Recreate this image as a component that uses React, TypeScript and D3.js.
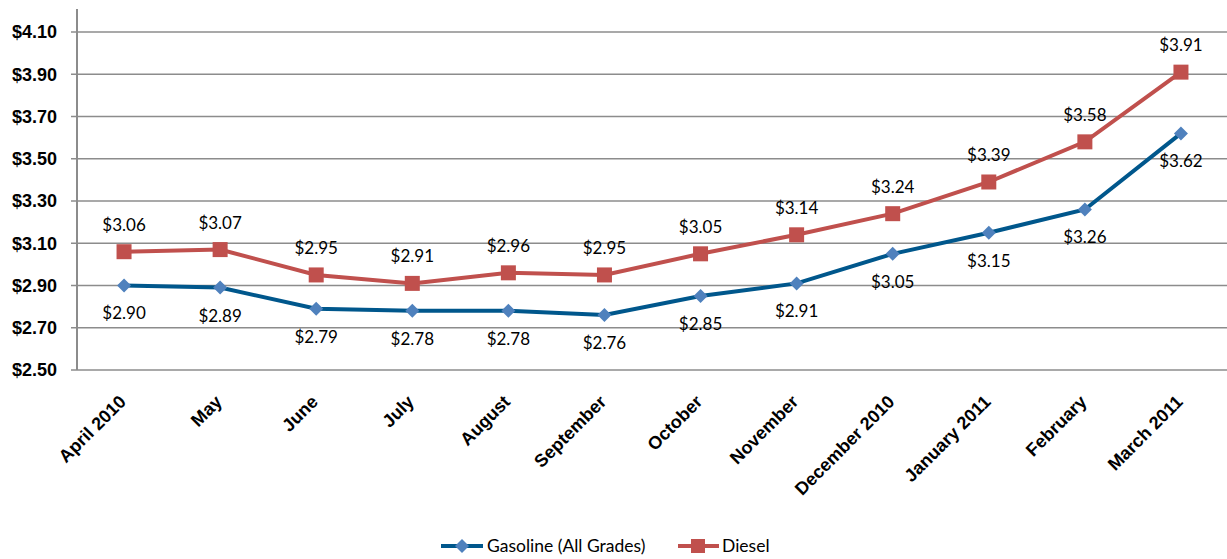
import React from "react";
import * as d3 from "d3";

const months = [
  "April 2010", "May", "June", "July", "August", "September",
  "October", "November", "December 2010", "January 2011", "February", "March 2011",
];
const gasoline = [2.90, 2.89, 2.79, 2.78, 2.78, 2.76, 2.85, 2.91, 3.05, 3.15, 3.26, 3.62];
const diesel = [3.06, 3.07, 2.95, 2.91, 2.96, 2.95, 3.05, 3.14, 3.24, 3.39, 3.58, 3.91];
const yTicks = [2.5, 2.7, 2.9, 3.1, 3.3, 3.5, 3.7, 3.9, 4.1];

const W = 1227;
const H = 559;
const left = 76;
const right = 1229;
const top = 32;
const bottom = 370;

const labelFont = "Lato, 'Open Sans', sans-serif";
const axisFont = "'Liberation Sans', Arial, sans-serif";

export default function App() {
  const x = d3.scaleBand<string>().domain(months).range([left, right]);
  const cx = (m: string) => (x(m) as number) + x.bandwidth() / 2;
  const y = d3.scaleLinear().domain([2.5, 4.1]).range([bottom, top]);
  const line = d3
    .line<number>()
    .x((_, i) => cx(months[i]))
    .y((d) => y(d));
  const fmt = (v: number) => "$" + v.toFixed(2);

  const gasLine = "#00578C";
  const gasMarker = "#4F81BD";
  const dieselColor = "#C0504D";

  return (
    <svg
      width={W}
      height={H}
      style={{ position: "absolute", left: 0, top: 0, background: "#fff" }}
    >
      {/* horizontal gridlines and y tick labels */}
      {yTicks.map((t) => (
        <g key={t}>
          <line
            x1={71}
            x2={W}
            y1={y(t)}
            y2={y(t)}
            stroke="#8c8c8c"
            strokeWidth={1.5}
          />
          <text
            x={57}
            y={y(t)}
            dy="0.36em"
            textAnchor="end"
            fontFamily={axisFont}
            fontWeight="bold"
            fontSize={18}
            fill="#000"
          >
            {fmt(t)}
          </text>
        </g>
      ))}
      {/* y axis */}
      <line x1={77} x2={77} y1={9} y2={bottom} stroke="#8c8c8c" strokeWidth={2} />

      {/* category labels */}
      {months.map((m) => (
        <text
          key={m}
          transform={`translate(${cx(m) - 6},${bottom + 24}) rotate(-45)`}
          textAnchor="end"
          dy="0.7em"
          fontFamily={axisFont}
          fontWeight="bold"
          fontSize={18}
          fill="#000"
        >
          {m}
        </text>
      ))}

      {/* gasoline series */}
      <path d={line(gasoline) || ""} fill="none" stroke={gasLine} strokeWidth={4} />
      {gasoline.map((v, i) => {
        const px = cx(months[i]);
        const py = y(v);
        return (
          <g key={"g" + i}>
            <path
              d={`M${px},${py - 7}L${px + 7},${py}L${px},${py + 7}L${px - 7},${py}Z`}
              fill={gasMarker}
            />
            <text
              x={px}
              y={py + 28}
              dy="0.35em"
              textAnchor="middle"
              fontFamily={labelFont}
              fontSize={17}
              fill="#000"
            >
              {fmt(v)}
            </text>
          </g>
        );
      })}

      {/* diesel series */}
      <path d={line(diesel) || ""} fill="none" stroke={dieselColor} strokeWidth={4} />
      {diesel.map((v, i) => {
        const px = cx(months[i]);
        const py = y(v);
        return (
          <g key={"d" + i}>
            <rect x={px - 7.5} y={py - 7.5} width={15} height={15} fill={dieselColor} />
            <text
              x={px}
              y={py - 27}
              dy="0.35em"
              textAnchor="middle"
              fontFamily={labelFont}
              fontSize={17}
              fill="#000"
            >
              {fmt(v)}
            </text>
          </g>
        );
      })}

      {/* legend */}
      <g>
        <line x1={441} x2={483} y1={546} y2={546} stroke={gasLine} strokeWidth={4} />
        <path d="M462,539L469,546L462,553L455,546Z" fill={gasMarker} />
        <text x={487} y={546} dy="0.35em" fontFamily={labelFont} fontSize={17.5} fill="#000">
          Gasoline (All Grades)
        </text>
        <line x1={678} x2={719} y1={546} y2={546} stroke={dieselColor} strokeWidth={4} />
        <rect x={691} y={539} width={14} height={14} fill={dieselColor} />
        <text x={722} y={546} dy="0.35em" fontFamily={labelFont} fontSize={17.5} fill="#000">
          Diesel
        </text>
      </g>
    </svg>
  );
}
